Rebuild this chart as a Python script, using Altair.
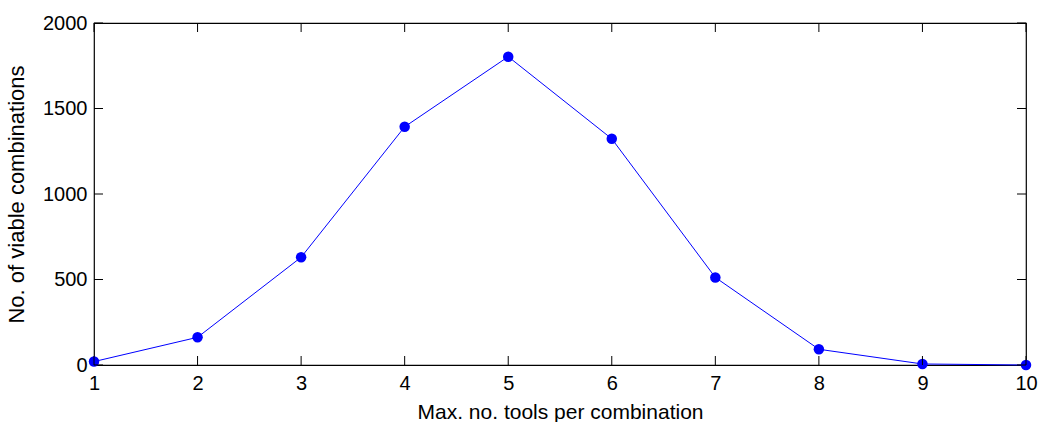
import altair as alt
import pandas as pd

tools = [1, 2, 3, 4, 5, 6, 7, 8, 9, 10]
combos = [20, 162, 630, 1393, 1803, 1323, 512, 92, 6, 0]

x_ticks = [1, 2, 3, 4, 5, 6, 7, 8, 9, 10]
y_ticks = [0, 500, 1000, 1500, 2000]

W, H = 932, 342
FONT = "Liberation Sans"

df = pd.DataFrame({"tools": tools, "combos": combos})
xt = pd.DataFrame({"t": x_ticks})
yt = pd.DataFrame({"v": y_ticks})

xs = alt.Scale(domain=[1, 10], nice=False, zero=False)
ys = alt.Scale(domain=[0, 2000], nice=False)

xaxis = alt.Axis(values=x_ticks, format="d", ticks=False, domain=False, grid=False,
                 labelFontSize=20, labelFont=FONT, labelColor="black",
                 labelPadding=8, title="Max. no. tools per combination",
                 titleFontSize=21, titleFont=FONT, titleFontWeight="normal",
                 titleColor="black", titlePadding=8, labelFlush=False)
yaxis = alt.Axis(values=y_ticks, format="d", ticks=False, domain=False, grid=False,
                 labelFontSize=20, labelFont=FONT, labelColor="black",
                 labelPadding=7, title="No. of viable combinations",
                 titleFontSize=22, titleFont=FONT, titleFontWeight="normal",
                 titleColor="black", titlePadding=14)

line = alt.Chart(df).mark_line(color="#0000ff", strokeWidth=1).encode(
    x=alt.X("tools:Q", scale=xs, axis=xaxis),
    y=alt.Y("combos:Q", scale=ys, axis=yaxis),
)
pts = alt.Chart(df).mark_circle(color="#0000ff", opacity=1, size=110).encode(
    x=alt.X("tools:Q", scale=xs, axis=xaxis),
    y=alt.Y("combos:Q", scale=ys, axis=yaxis),
)

tick_len = 9
xb = alt.Chart(xt).mark_rule(color="black", strokeWidth=1).encode(
    x=alt.X("t:Q", scale=xs, axis=xaxis), y=alt.value(H), y2=alt.value(H - tick_len))
xtop = alt.Chart(xt).mark_rule(color="black", strokeWidth=1).encode(
    x=alt.X("t:Q", scale=xs, axis=xaxis), y=alt.value(0), y2=alt.value(tick_len))
yl = alt.Chart(yt).mark_rule(color="black", strokeWidth=1).encode(
    y=alt.Y("v:Q", scale=ys, axis=yaxis), x=alt.value(0), x2=alt.value(tick_len))
yr = alt.Chart(yt).mark_rule(color="black", strokeWidth=1).encode(
    y=alt.Y("v:Q", scale=ys, axis=yaxis), x=alt.value(W), x2=alt.value(W - tick_len))

chart = alt.layer(xb, xtop, yl, yr, line, pts).resolve_axis(x="shared", y="shared")
chart = alt.layer(line, pts, xb, xtop, yl, yr).properties(
    width=W, height=H, background="white",
    padding={"left": 5, "top": 13, "right": 0, "bottom": 0},
).configure_view(stroke="black", strokeWidth=1.2)

chart.save("out.html", embed_options={"renderer": "svg", "actions": False})
